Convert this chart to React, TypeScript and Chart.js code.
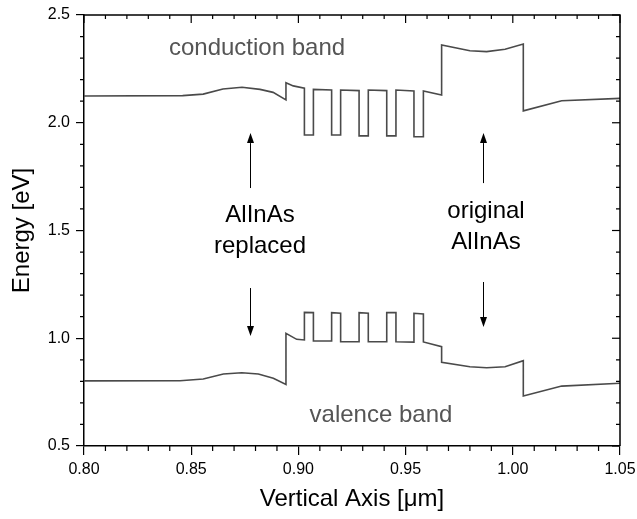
import React, { useEffect, useRef } from "react";
import { Chart, registerables } from "chart.js";

Chart.register(...registerables);

// ---- data ----
const cbX = [0.800, 0.846, 0.8556, 0.8648, 0.8737, 0.8821, 0.8882, 0.8942, 0.8942, 0.8976, 0.9028, 0.9028, 0.9070, 0.9070, 0.9155, 0.9155, 0.9197, 0.9197, 0.9283, 0.9283, 0.9326, 0.9326, 0.9412, 0.9412, 0.9455, 0.9455, 0.9539, 0.9539, 0.9583, 0.9583, 0.9668, 0.9668, 0.9800, 0.9878, 0.9964, 1.0049, 1.0049, 1.0228, 1.050];
const cbY = [2.124, 2.126, 2.133, 2.157, 2.165, 2.155, 2.141, 2.106, 2.186, 2.171, 2.160, 1.943, 1.943, 2.155, 2.152, 1.943, 1.943, 2.152, 2.149, 1.939, 1.939, 2.152, 2.149, 1.939, 1.939, 2.152, 2.147, 1.935, 1.935, 2.147, 2.129, 2.361, 2.334, 2.330, 2.341, 2.365, 2.055, 2.102, 2.113];

const vbX = [0.800, 0.8448, 0.8556, 0.8650, 0.8736, 0.8813, 0.8883, 0.8942, 0.8942, 0.8992, 0.9028, 0.9028, 0.9070, 0.9070, 0.9155, 0.9155, 0.9197, 0.9197, 0.9283, 0.9283, 0.9326, 0.9326, 0.9412, 0.9412, 0.9455, 0.9455, 0.9539, 0.9539, 0.9583, 0.9583, 0.9668, 0.9668, 0.9800, 0.9878, 0.9964, 1.0049, 1.0049, 1.0228, 1.050];
const vbY = [0.802, 0.803, 0.811, 0.834, 0.840, 0.834, 0.814, 0.786, 1.023, 0.995, 0.992, 1.120, 1.119, 0.987, 0.987, 1.119, 1.116, 0.984, 0.984, 1.119, 1.116, 0.984, 0.984, 1.119, 1.119, 0.984, 0.982, 1.116, 1.113, 0.983, 0.961, 0.888, 0.868, 0.863, 0.868, 0.896, 0.732, 0.778, 0.791];

const xTicks = [0.8, 0.85, 0.9, 0.95, 1.0, 1.05];
const yTicks = [0.5, 1.0, 1.5, 2.0, 2.5];

// annotation texts (data coordinates, text baseline)
const noteText = ["conduction band", "valence band", "AlInAs", "replaced", "original", "AlInAs"];
const noteX = [0.8807, 0.9385, 0.8821, 0.8821, 0.9875, 0.9875];
const noteY = [2.314, 0.611, 1.539, 1.396, 1.560, 1.414];
const noteGray = [true, true, false, false, false, false];

// arrows (x, from y, to y = tip)
const arrowX = [0.8774, 0.8774, 0.986, 0.986];
const arrowFrom = [1.697, 1.233, 1.720, 1.261];
const arrowTo = [1.952, 1.010, 1.952, 1.052];

const FONT = "'Liberation Sans', Arial, sans-serif";

const decorPlugin = {
  id: "decor",
  afterDatasetsDraw(chart: any) {
    const { ctx, scales } = chart;
    const x = scales.x;
    const y = scales.y;
    ctx.save();
    ctx.textAlign = "center";
    ctx.textBaseline = "alphabetic";
    ctx.font = `24px ${FONT}`;
    noteText.forEach((t, i) => {
      ctx.fillStyle = noteGray[i] ? "#555555" : "#000000";
      ctx.fillText(t, x.getPixelForValue(noteX[i]), y.getPixelForValue(noteY[i]));
    });
    ctx.strokeStyle = "#000";
    ctx.fillStyle = "#000";
    ctx.lineWidth = 1;
    arrowX.forEach((ax, i) => {
      const px = Math.round(x.getPixelForValue(ax)) + 0.5;
      const y0 = y.getPixelForValue(arrowFrom[i]);
      const y1 = y.getPixelForValue(arrowTo[i]);
      const dir = y1 < y0 ? -1 : 1;
      const headLen = 10;
      ctx.beginPath();
      ctx.moveTo(px, y0);
      ctx.lineTo(px, y1 - dir * headLen);
      ctx.stroke();
      ctx.beginPath();
      ctx.moveTo(px, y1);
      ctx.lineTo(px - 3.5, y1 - dir * headLen);
      ctx.lineTo(px + 3.5, y1 - dir * headLen);
      ctx.closePath();
      ctx.fill();
    });
    ctx.restore();
  },
  afterDraw(chart: any) {
    const { ctx, chartArea, scales } = chart;
    const { left, right, top, bottom } = chartArea;
    const x = scales.x;
    const y = scales.y;
    ctx.save();
    ctx.strokeStyle = "#000";
    ctx.lineWidth = 1.5;
    ctx.beginPath();
    ctx.moveTo(left, top);
    ctx.lineTo(right, top);
    ctx.lineTo(right, bottom);
    ctx.stroke();
    ctx.lineWidth = 1.2;
    for (let i = 80; i <= 105; i++) {
      const px = x.getPixelForValue(i / 100);
      const major = i % 5 === 0;
      ctx.beginPath();
      if (!major) {
        ctx.moveTo(px, bottom);
        ctx.lineTo(px, bottom + 5);
      }
      ctx.moveTo(px, top);
      ctx.lineTo(px, top + (major ? 8 : 4));
      ctx.stroke();
    }
    for (let i = 5; i <= 25; i++) {
      const py = y.getPixelForValue(i / 10);
      const major = i % 5 === 0;
      ctx.beginPath();
      if (!major) {
        ctx.moveTo(left, py);
        ctx.lineTo(left - 4, py);
      }
      ctx.moveTo(right, py);
      ctx.lineTo(right - (major ? 8 : 4), py);
      ctx.stroke();
    }
    ctx.restore();
  },
};

export default function App() {
  const ref = useRef<HTMLCanvasElement | null>(null);
  useEffect(() => {
    if (!ref.current) return;
    const chart = new Chart(ref.current, {
      type: "scatter",
      data: {
        datasets: [
          {
            label: "conduction band",
            data: cbX.map((v, i) => ({ x: v, y: cbY[i] })),
            showLine: true,
            borderColor: "#4a4a4a",
            borderWidth: 1.6,
            pointRadius: 0,
            tension: 0,
          },
          {
            label: "valence band",
            data: vbX.map((v, i) => ({ x: v, y: vbY[i] })),
            showLine: true,
            borderColor: "#4a4a4a",
            borderWidth: 1.6,
            pointRadius: 0,
            tension: 0,
          },
        ],
      },
      options: {
        animation: false,
        responsive: false,
        devicePixelRatio: 1,
        layout: { padding: { left: 0, right: 17, top: 15, bottom: 0 } },
        plugins: { legend: { display: false }, tooltip: { enabled: false } },
        scales: {
          x: {
            type: "linear",
            min: 0.8,
            max: 1.05,
            afterBuildTicks: (s: any) => {
              s.ticks = xTicks.map((v) => ({ value: v }));
            },
            afterFit: (s: any) => {
              s.height = 73;
              s.paddingLeft = 0;
              s.paddingRight = 0;
            },
            ticks: {
              callback: (v: any) => Number(v).toFixed(2),
              font: { family: FONT, size: 16 },
              color: "#000",
              padding: 5,
              maxRotation: 0,
              autoSkip: false,
            },
            grid: { drawOnChartArea: false, tickLength: 9, color: "#000", lineWidth: 1.2 },
            border: { color: "#000", width: 1.5 },
            title: {
              display: true,
              text: "Vertical Axis [μm]",
              font: { family: FONT, size: 24 },
              color: "#000",
              padding: { top: 0, bottom: 5 },
            },
          },
          y: {
            type: "linear",
            min: 0.5,
            max: 2.5,
            afterBuildTicks: (s: any) => {
              s.ticks = yTicks.map((v) => ({ value: v }));
            },
            afterFit: (s: any) => {
              s.width = 84;
              s.paddingTop = 0;
              s.paddingBottom = 0;
            },
            ticks: {
              callback: (v: any) => Number(v).toFixed(1),
              font: { family: FONT, size: 16 },
              color: "#000",
              padding: 6,
              autoSkip: false,
            },
            grid: { drawOnChartArea: false, tickLength: 8, color: "#000", lineWidth: 1.2 },
            border: { color: "#000", width: 1.5 },
            title: {
              display: true,
              text: "Energy [eV]",
              font: { family: FONT, size: 24 },
              color: "#000",
              padding: { top: 8, bottom: 0 },
            },
          },
        },
      },
      plugins: [decorPlugin],
    } as any);
    return () => chart.destroy();
  }, []);
  return (
    <div style={{ position: "absolute", left: 0, top: 0, width: 637, height: 519, background: "#fff" }}>
      <canvas ref={ref} width={637} height={519} style={{ width: 637, height: 519, display: "block" }} />
    </div>
  );
}
